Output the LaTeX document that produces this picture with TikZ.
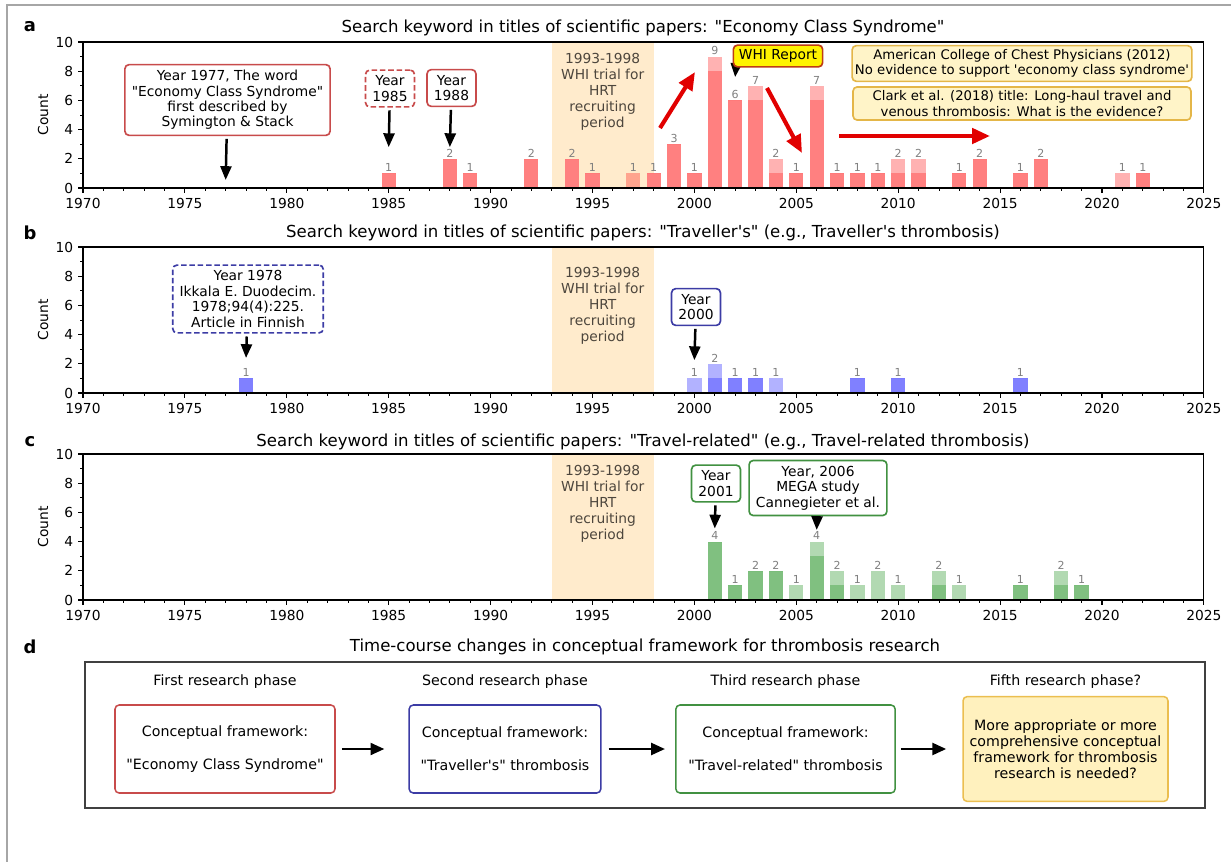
\documentclass[tikz,border=0pt]{standalone}
\usepackage{fontspec}
\setmainfont{DejaVu Sans}[Ligatures=TeXOff]
\usetikzlibrary{arrows.meta}

\definecolor{bandc}{RGB}{255,235,204}
\definecolor{bandtxt}{RGB}{77,70,61}
\definecolor{mplgreen}{RGB}{0,128,0}
\definecolor{boxred}{RGB}{200,75,75}
\definecolor{boxblue}{RGB}{60,60,165}
\definecolor{boxgreen}{RGB}{65,145,65}
\definecolor{notefill}{RGB}{255,244,200}
\definecolor{noteedge}{RGB}{228,182,72}
\definecolor{whiedge}{RGB}{190,60,20}
\definecolor{arrred}{RGB}{225,0,0}
\definecolor{dyellow}{RGB}{255,241,190}
\definecolor{dyedge}{RGB}{235,190,80}

\tikzset{
  axisline/.style={line width=0.8pt},
  majortick/.style={line width=0.8pt},
  minortick/.style={line width=0.6pt},
  ticklbl/.style={font=\fontsize{10}{12}\selectfont, inner sep=0pt},
  cntlbl/.style={font=\fontsize{8}{9}\selectfont, text=gray, inner sep=0pt, anchor=south, yshift=1pt},
  bandlbl/.style={font=\fontsize{10}{11.6}\selectfont, text=bandtxt, align=center},
  titlelbl/.style={font=\fontsize{12}{14}\selectfont},
  panellbl/.style={font=\bfseries\fontsize{13}{15}\selectfont},
  annot/.style={font=\fontsize{10}{11.2}\selectfont, align=center, fill=white,
    line width=1.2pt, rounded corners=3pt, inner xsep=5pt, inner ysep=4pt},
  notebox/.style={font=\fontsize{9.6}{11}\selectfont, align=center, fill=notefill,
    draw=noteedge, line width=1.2pt, rounded corners=3pt, minimum width=245pt,
    inner xsep=2pt, inner ysep=2.8pt},
  whibox/.style={font=\fontsize{10}{12}\selectfont, fill=yellow, draw=whiedge,
    line width=1.2pt, rounded corners=3pt, inner xsep=4pt, inner ysep=3.2pt},
  blkarrow/.style={-{Triangle[width=8pt,length=10pt]}, line width=1.8pt, shorten <=2pt},
  redarrow/.style={-{Triangle[width=11pt,length=13pt]}, line width=3pt, arrred},
  darrow/.style={-{Triangle[width=8.5pt,length=10pt]}, line width=2pt},
  phaselbl/.style={font=\fontsize{10.3}{12}\selectfont},
  phasebox/.style={font=\fontsize{10.3}{12}\selectfont, align=center, line width=1.1pt,
    rounded corners=3pt, minimum height=63.8pt},
  dashbox/.style={dash pattern=on 4pt off 2pt}
}

\newcommand{\bandarea}[2]{%
  \fill[bandc] (23,0) rectangle (28,10);
  \node[bandlbl] (band#1) at (25.5,#2) {1993-1998\\WHI trial for\\HRT\\recruiting\\period};
}
\newcommand{\yearbars}[3]{%
  \foreach \yr/\dk/\lt in {#3} {
    \fill[#2!50] (\yr-1970.35,0) rectangle (\yr-1969.65,\dk);
    \fill[#2, fill opacity=0.3] (\yr-1970.35,\dk) rectangle (\yr-1969.65,\dk+\lt);
    \pgfmathtruncatemacro{\tot}{\dk+\lt}
    \node[cntlbl] (#1\yr) at (\yr-1970,\tot) {\tot};
  }
}
\newcommand{\axesframe}[1]{%
  \foreach \t in {0,...,55} \draw[minortick] (\t,0) -- ++(0,-2pt);
  \foreach \t in {0,5,...,55} \draw[majortick] (\t,0) -- ++(0,-3.5pt);
  \foreach \c in {1,3,...,9} \draw[minortick] (0,\c) -- ++(-2pt,0);
  \foreach \c in {0,2,...,10} {
    \draw[majortick] (0,\c) -- ++(-3.5pt,0);
    \node[ticklbl, anchor=east] (#1y\c) at ([xshift=-7pt]0,\c) {\c};
  }
  \foreach \yr in {1970,1975,...,2025}
    \node[ticklbl, anchor=north] (#1x\yr) at ([yshift=-7pt]\yr-1970,0) {\yr};
  \draw[axisline] (0,0) rectangle (55,10);
  \node[font=\fontsize{10}{12}\selectfont, rotate=90] (#1cnt) at (-1.96,5) {Count};
}

\begin{document}
\begin{tikzpicture}[x=0.725pt, y=-0.725pt]
\useasboundingbox (0,0) rectangle (1231,862);
\draw[gray!70, line width=1pt] (7,862) -- (7,5) -- (1231,5);

% a: economy class syndrome
\node[panellbl] (la) at (30,27) {a};
\node[titlelbl] (ta) at (643,28) {Search keyword in titles of scientific papers: "Economy Class Syndrome"};
\begin{scope}[shift={(83,188)}, x=14.7755pt, y=10.585pt]
\bandarea{a}{6.6}
\yearbars{a}{red}{1985/1/0, 1988/2/0, 1989/1/0, 1992/2/0, 1994/2/0, 1995/1/0, 1997/0/1,
  1998/1/0, 1999/3/0, 2000/1/0, 2001/8/1, 2002/6/0, 2003/6/1, 2004/1/1, 2005/1/0,
  2006/6/1, 2007/1/0, 2008/1/0, 2009/1/0, 2010/1/1, 2011/1/1, 2013/1/0, 2014/2/0,
  2016/1/0, 2017/2/0, 2021/0/1, 2022/1/0}
\axesframe{a}
\coordinate (p1977) at (7,0.55);
\coordinate (p1985) at (15,2.8);
\coordinate (p1988) at (18,2.8);
\coordinate (pwhi) at (32,7.6);
\end{scope}
\draw[blkarrow, shorten <=-2pt] (778,56) ++(-41,0) coordinate (whiin) -- (pwhi);
\node[whibox] (whi) at (778,56) {WHI Report};
\node[annot, draw=boxred] (n1977) at (227.5,100) {Year 1977, The word\\"Economy Class Syndrome"\\first described by\\Symington \& Stack};
\node[annot, draw=boxred, dashbox] (n1985) at (390,88.5) {Year\\1985};
\node[annot, draw=boxred] (n1988) at (451.5,88) {Year\\1988};
\node[notebox] (acc) at (1022,63.5) {American College of Chest Physicians (2012)\\No evidence to support 'economy class syndrome'};
\node[notebox] (clark) at (1022,103.5) {Clark et al. (2018) title: Long-haul travel and\\venous thrombosis: What is the evidence?};
\draw[blkarrow] (n1977) -- (p1977);
\draw[blkarrow] (n1985) -- (p1985);
\draw[blkarrow] (n1988) -- (p1988);
\coordinate (up0) at (660,128);
\coordinate (up1) at (695,72);
\coordinate (down0) at (767,88);
\coordinate (down1) at (802,153);
\coordinate (flat0) at (839,136);
\coordinate (flat1) at (990,136);
\draw[redarrow] (up0) -- (up1);
\draw[redarrow] (down0) -- (down1);
\draw[redarrow] (flat0) -- (flat1);

% b: traveller's
\node[panellbl] (lb) at (30,233) {b};
\node[titlelbl] (tb) at (643,233) {Search keyword in titles of scientific papers: "Traveller's" (e.g., Traveller's thrombosis)};
\begin{scope}[shift={(83,393)}, x=14.7755pt, y=10.585pt]
\bandarea{b}{5.95}
\yearbars{b}{blue}{1978/1/0, 2000/0/1, 2001/1/1, 2002/1/0, 2003/1/0, 2004/0/1,
  2008/1/0, 2010/1/0, 2016/1/0}
\axesframe{b}
\coordinate (p1978) at (8,2.4);
\coordinate (p2000) at (30,2.25);
\end{scope}
\node[annot, draw=boxblue, dashbox] (n1978) at (248,299) {Year 1978\\Ikkala E. Duodecim.\\1978;94(4):225.\\Article in Finnish};
\node[annot, draw=boxblue] (n2000) at (696,307) {Year\\2000};
\draw[blkarrow] (n1978) -- (p1978);
\draw[blkarrow] (n2000) -- (p2000);

% c: travel-related
\node[panellbl] (lc) at (30,442) {c};
\node[titlelbl] (tc) at (643,442) {Search keyword in titles of scientific papers: "Travel-related" (e.g., Travel-related thrombosis)};
\begin{scope}[shift={(83,600)}, x=14.7755pt, y=10.585pt]
\bandarea{c}{6.6}
\yearbars{c}{mplgreen}{2001/4/0, 2002/1/0, 2003/2/0, 2004/2/0, 2005/0/1, 2006/3/1,
  2007/1/1, 2008/0/1, 2009/0/2, 2010/0/1, 2012/1/1, 2013/0/1, 2016/1/0, 2018/1/1, 2019/1/0}
\axesframe{c}
\coordinate (p2001) at (31,4.9);
\coordinate (p2006) at (36,4.8);
\end{scope}
\node[annot, draw=boxgreen] (n2001) at (716,483.5) {Year\\2001};
\node[annot, draw=boxgreen] (n2006) at (818,488) {Year, 2006\\MEGA study\\Cannegieter et al.};
\draw[blkarrow] (n2001) -- (p2001);
\draw[blkarrow, shorten <=0pt] (n2006) -- (p2006);

% d: research phases
\node[panellbl] (ld) at (30,647) {d};
\node[titlelbl] (td) at (645,647) {Time-course changes in conceptual framework for thrombosis research};
\draw[line width=1pt, black!75] (85,662) rectangle (1205,808);
\node[phaselbl] (ph1) at (225,682) {First research phase};
\node[phaselbl] (ph2) at (505,682) {Second research phase};
\node[phaselbl] (ph3) at (785.5,682) {Third research phase};
\node[phaselbl] (ph5) at (1065.5,682) {Fifth research phase?};
\node[phasebox, draw=boxred, minimum width=159.5pt] (fw1) at (225,749) {Conceptual framework:\\[12pt]"Economy Class Syndrome"};
\node[phasebox, draw=boxblue, minimum width=139pt] (fw2) at (505,749) {Conceptual framework:\\[12pt]"Traveller's" thrombosis};
\node[phasebox, draw=boxgreen, minimum width=159pt] (fw3) at (785.5,749) {Conceptual framework:\\[12pt]"Travel-related" thrombosis};
\node[phasebox, draw=dyedge, fill=dyellow, minimum width=148.6pt, minimum height=76pt,
  font=\fontsize{10.3}{11.6}\selectfont] (fw5) at (1065.5,749) {More appropriate or more\\comprehensive conceptual\\framework for thrombosis\\research is needed?};
\draw[darrow, shorten <=4.4pt, shorten >=17.4pt] (fw1) -- (fw2);
\draw[darrow, shorten <=5pt, shorten >=7.3pt] (fw2) -- (fw3);
\draw[darrow, shorten <=3.6pt, shorten >=11.6pt] (fw3) -- (fw5);
\end{tikzpicture}
\end{document}
